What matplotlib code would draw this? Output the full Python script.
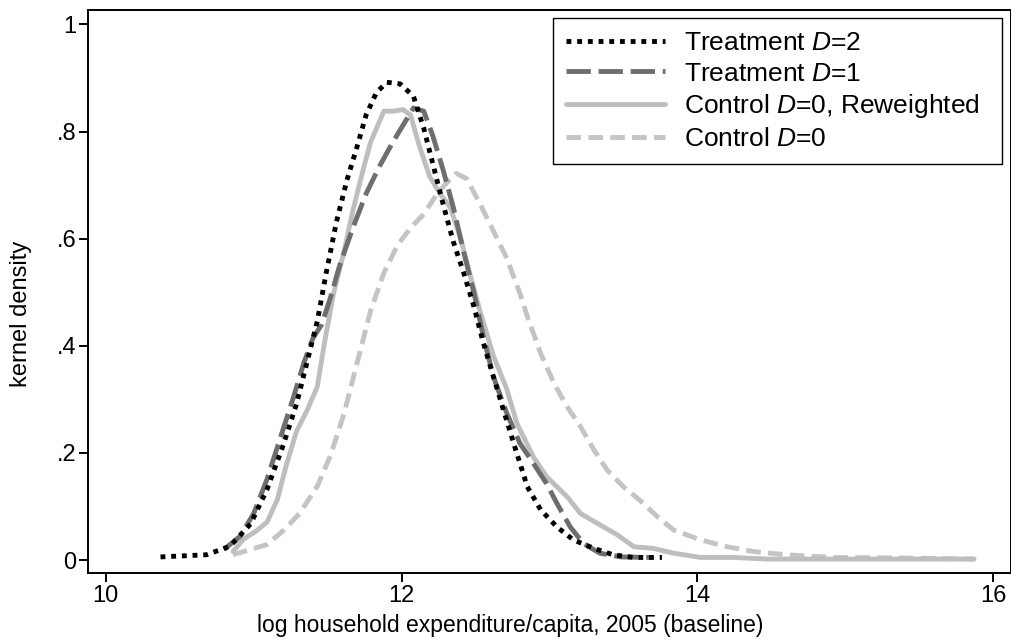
import matplotlib
matplotlib.use("Agg")
import matplotlib.pyplot as plt

plt.rcParams["font.family"] = ["Liberation Sans", "DejaVu Sans"]
plt.rcParams["mathtext.fontset"] = "custom"
plt.rcParams["mathtext.it"] = "Liberation Sans:italic"
plt.rcParams["mathtext.rm"] = "Liberation Sans"

# kernel density estimates, log household expenditure per capita (2005)
d2_x = [10.37, 10.68, 10.84, 10.98, 11.09, 11.20, 11.29, 11.36, 11.43, 11.49,
        11.56, 11.63, 11.70, 11.76, 11.83, 11.90, 11.99, 12.08, 12.15, 12.21,
        12.28, 12.35, 12.42, 12.49, 12.55, 12.62, 12.69, 12.76, 12.85, 12.94,
        13.05, 13.16, 13.30, 13.43, 13.57, 13.76]
d2_y = [0.006, 0.010, 0.026, 0.068, 0.132, 0.215, 0.292, 0.369, 0.446, 0.536,
        0.632, 0.709, 0.773, 0.831, 0.873, 0.892, 0.889, 0.866, 0.806, 0.741,
        0.665, 0.594, 0.536, 0.472, 0.408, 0.343, 0.279, 0.216, 0.137, 0.094,
        0.062, 0.038, 0.022, 0.010, 0.005, 0.005]

d1_x = [10.80, 10.91, 11.00, 11.09, 11.18, 11.27, 11.34, 11.40, 11.46, 11.52,
        11.58, 11.67, 11.76, 11.85, 11.94, 12.01, 12.08, 12.15, 12.21, 12.28,
        12.35, 12.42, 12.49, 12.55, 12.62, 12.71, 12.80, 12.89, 12.98, 13.05,
        13.14, 13.23, 13.34, 13.48, 13.68]
d1_y = [0.020, 0.045, 0.087, 0.151, 0.228, 0.305, 0.369, 0.414, 0.440, 0.491,
        0.549, 0.620, 0.684, 0.735, 0.780, 0.812, 0.844, 0.838, 0.793, 0.729,
        0.658, 0.575, 0.498, 0.421, 0.343, 0.275, 0.218, 0.181, 0.143, 0.106,
        0.062, 0.031, 0.013, 0.006, 0.005]

rw_x = [10.86, 10.93, 11.02, 11.09, 11.16, 11.22, 11.29, 11.36, 11.43, 11.48,
        11.54, 11.61, 11.67, 11.74, 11.79, 11.83, 11.88, 11.94, 12.01, 12.06,
        12.12, 12.19, 12.26, 12.33, 12.40, 12.46, 12.53, 12.62, 12.71, 12.78,
        12.89, 12.98, 13.12, 13.21, 13.34, 13.46, 13.57, 13.70, 13.84, 14.02,
        14.24, 14.47, 14.92, 15.87]
rw_y = [0.016, 0.039, 0.055, 0.071, 0.113, 0.177, 0.241, 0.279, 0.324, 0.408,
        0.498, 0.575, 0.652, 0.729, 0.780, 0.806, 0.838, 0.838, 0.841, 0.831,
        0.773, 0.716, 0.684, 0.658, 0.600, 0.536, 0.465, 0.382, 0.320, 0.255,
        0.193, 0.156, 0.118, 0.087, 0.066, 0.047, 0.025, 0.022, 0.013, 0.005,
        0.005, 0.002, 0.002, 0.002]

c0_x = [10.86, 10.98, 11.09, 11.20, 11.31, 11.43, 11.52, 11.61, 11.70, 11.79,
        11.88, 11.97, 12.06, 12.15, 12.24, 12.31, 12.37, 12.44, 12.53, 12.62,
        12.71, 12.80, 12.85, 12.94, 13.03, 13.12, 13.21, 13.30, 13.39, 13.50,
        13.61, 13.73, 13.84, 14.02, 14.20, 14.38, 14.60, 14.92, 15.37, 15.87]
c0_y = [0.010, 0.020, 0.029, 0.055, 0.087, 0.138, 0.196, 0.273, 0.369, 0.465,
        0.536, 0.587, 0.620, 0.646, 0.684, 0.706, 0.722, 0.712, 0.665, 0.615,
        0.564, 0.498, 0.455, 0.386, 0.330, 0.286, 0.249, 0.206, 0.168, 0.137,
        0.112, 0.081, 0.056, 0.038, 0.025, 0.016, 0.010, 0.005, 0.004, 0.002]

labels = [r"Treatment $\mathit{D}$=$\mathit{2}$",
          r"Treatment $\mathit{D}$=$\mathit{1}$",
          r"Control $\mathit{D}$=$\mathit{0}$, Reweighted  ",
          r"Control $\mathit{D}$=$\mathit{0}$"]
x_ticks = [10, 12, 14, 16]
y_ticks = [0, 0.2, 0.4, 0.6, 0.8, 1]
y_tick_labels = ["0", ".2", ".4", ".6", ".8", "1"]

fig = plt.figure(figsize=(10.12, 6.39), dpi=100)
ax = fig.add_axes([0.087, 0.1033, 0.912, 0.8811])

lw = 3.5
ax.plot(rw_x, rw_y, color="#bebebe", lw=lw, solid_capstyle="round",
        label=labels[2], zorder=2)
ax.plot(c0_x, c0_y, color="#c4c4c4", lw=lw, dashes=(3.0, 1.5),
        dash_capstyle="butt", label=labels[3], zorder=1)
ax.plot(d1_x, d1_y, color="#6e6e6e", lw=lw, dashes=(5.0, 1.6),
        dash_capstyle="butt", label=labels[1], zorder=3)
ax.plot(d2_x, d2_y, color="black", lw=lw, dashes=(1.0, 1.2),
        dash_capstyle="butt", label=labels[0], zorder=4)

ax.set_xlim(9.88, 16.12)
ax.set_ylim(-0.024, 1.027)
ax.set_xticks(x_ticks)
ax.set_xticklabels([str(t) for t in x_ticks])
ax.set_yticks(y_ticks)
ax.set_yticklabels(y_tick_labels)

for s in ax.spines.values():
    s.set_linewidth(1.4)
ax.tick_params(direction="out", length=6.5, width=1.4, labelsize=17, pad=2)

ax.set_xlabel("log household expenditure/capita, 2005 (baseline)", fontsize=16.5)
ax.set_ylabel("kernel density", fontsize=17)
ax.xaxis.set_label_coords(0.457, -0.072)
ax.yaxis.set_label_coords(-0.061, 0.46)

handles, labs = ax.get_legend_handles_labels()
order = [3, 2, 0, 1]
leg = ax.legend([handles[i] for i in order], [labs[i] for i in order],
                loc="upper right", bbox_to_anchor=(0.990, 0.986),
                borderaxespad=0, fontsize=19, handlelength=3.75,
                handletextpad=0.72, labelspacing=0.25, borderpad=0.5,
                fancybox=False, framealpha=1, edgecolor="black")
leg.get_frame().set_linewidth(1.0)

fig.savefig("out.png", dpi=100)
